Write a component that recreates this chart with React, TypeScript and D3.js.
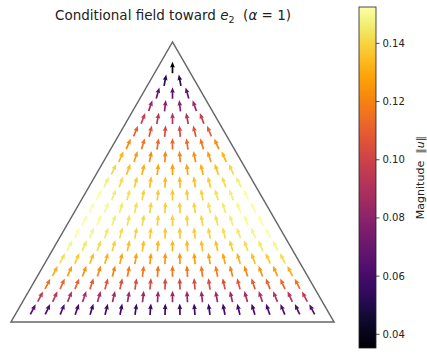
import React from 'react';
import * as d3 from 'd3';

// barycentric grid: points (i, j, k) / N, every part >= 1
const N = 22;

// |u|, x1000. top row (next to e2) first, left to right
const magRows: number[][] = [
  [35],
  [52, 52],
  [68, 66, 68],
  [84, 80, 80, 84],
  [98, 93, 92, 93, 98],
  [111, 106, 103, 103, 106, 111],
  [123, 117, 114, 113, 114, 117, 123],
  [133, 127, 123, 121, 121, 123, 127, 133],
  [141, 135, 131, 129, 128, 129, 131, 135, 141],
  [147, 142, 138, 135, 134, 134, 135, 138, 142, 147],
  [152, 147, 143, 140, 138, 137, 138, 140, 143, 147, 152],
  [152, 150, 146, 143, 140, 139, 139, 140, 143, 146, 150, 152],
  [152, 151, 147, 143, 141, 140, 139, 140, 141, 143, 147, 151, 152],
  [152, 149, 145, 142, 140, 138, 137, 137, 138, 140, 142, 145, 149, 152],
  [149, 145, 142, 139, 136, 135, 134, 133, 134, 135, 136, 139, 142, 145, 149],
  [142, 138, 135, 132, 130, 128, 127, 126, 126, 127, 128, 130, 132, 135, 138, 142],
  [131, 128, 125, 122, 120, 119, 117, 117, 116, 117, 117, 119, 120, 122, 125, 128, 131],
  [116, 113, 111, 109, 107, 105, 104, 103, 103, 103, 103, 104, 105, 107, 109, 111, 113, 116],
  [95, 93, 91, 89, 88, 86, 85, 85, 84, 84, 84, 85, 85, 86, 88, 89, 91, 93, 95],
  [65, 64, 62, 61, 60, 59, 59, 58, 58, 58, 58, 58, 58, 59, 59, 60, 61, 62, 64, 65],
];

const cbarTicks = [0.04, 0.06, 0.08, 0.1, 0.12, 0.14];
const cbarDomain: [number, number] = [0.0353, 0.1525];

const W = 427;
const H = 358;
const H3 = Math.sqrt(3) / 2;

const font = '"DejaVu Sans", sans-serif';

export default function App() {
  const x = d3.scaleLinear().domain([0, 1]).range([11, 334]);
  const y = d3.scaleLinear().domain([0, H3]).range([322, 42]);
  const color = d3.scaleSequential(d3.interpolateInferno).domain(cbarDomain).clamp(true);

  // bary (a, b, c) -> plane: e1 bottom left, e3 bottom right, e2 on top
  const toXY = (b: number, c: number): [number, number] => [x(c + b / 2), y(b * H3)];
  const apex = toXY(1, 0);

  // quiver arrow shape, pivot in the middle
  const L = 11.5;
  const w = 1.7;
  const hl = 5.8;
  const ha = 5.2;
  const hw = 4.8;
  const arrowPts = [
    [-L / 2, -w / 2],
    [L / 2 - ha, -w / 2],
    [L / 2 - hl, -hw / 2],
    [L / 2, 0],
    [L / 2 - hl, hw / 2],
    [L / 2 - ha, w / 2],
    [-L / 2, w / 2],
  ]
    .map((p) => p.join(','))
    .join(' ');

  const arrows: { px: number; py: number; ang: number; m: number }[] = [];
  magRows.forEach((row, r) => {
    const k = N - 2 - r; // e2 share, in 1/N
    row.forEach((v, idx) => {
      const j = idx + 1;
      const [px, py] = toXY(k / N, j / N);
      const ang = (Math.atan2(apex[1] - py, apex[0] - px) * 180) / Math.PI;
      arrows.push({ px, py, ang, m: v / 1000 });
    });
  });

  const tri = [toXY(1, 0), toXY(0, 0), toXY(0, 1)];

  // colorbar
  const cbX = 359;
  const cbW = 17;
  const cy = d3.scaleLinear().domain(cbarDomain).range([348, 7]);
  const stops = d3.range(0, 1.0001, 0.05);

  return (
    <svg width={W} height={H} style={{ position: 'absolute', left: 0, top: 0, background: '#fff' }} fontFamily={font}>
      <defs>
        <linearGradient id="cb" x1="0" y1="1" x2="0" y2="0">
          {stops.map((t) => (
            <stop key={t} offset={t} stopColor={d3.interpolateInferno(t)} />
          ))}
        </linearGradient>
      </defs>

      <text x={173} y={20} textAnchor="middle" fontSize={13.5} fill="#222" xmlSpace="preserve">
        Conditional field toward <tspan fontStyle="italic">e</tspan>
        <tspan fontSize={9.5} dy={3}>2</tspan>
        <tspan dy={-3}>{'\u00a0\u00a0('}</tspan>
        <tspan fontStyle="italic">α</tspan>
        {' = 1)'}
      </text>

      <polygon points={tri.map((p) => p.join(',')).join(' ')} fill="none" stroke="#666" strokeWidth={1.5} strokeLinejoin="miter" />

      {arrows.map((a, i) => (
        <polygon
          key={i}
          points={arrowPts}
          fill={color(a.m)}
          transform={`translate(${a.px.toFixed(2)},${a.py.toFixed(2)}) rotate(${a.ang.toFixed(2)})`}
        />
      ))}

      <rect x={cbX} y={7} width={cbW} height={341} fill="url(#cb)" stroke="#222" strokeWidth={0.8} />
      {cbarTicks.map((t) => (
        <g key={t} transform={`translate(${cbX + cbW},${cy(t)})`}>
          <line x1={0} x2={3.5} stroke="#222" strokeWidth={0.8} />
          <text x={6.5} dy="0.35em" fontSize={10} fill="#222">
            {t.toFixed(2)}
          </text>
        </g>
      ))}
      <text transform={`translate(424,177.5) rotate(-90)`} textAnchor="middle" fontSize={11} fill="#222" xmlSpace="preserve">
        {'Magnitude\u00a0\u00a0‖'}
        <tspan fontStyle="italic">u</tspan>
        {'‖'}
      </text>
    </svg>
  );
}
